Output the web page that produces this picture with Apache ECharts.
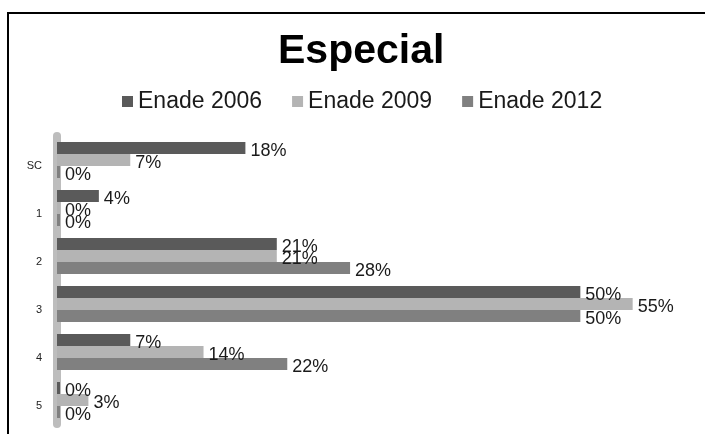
<!DOCTYPE html>
<html>
<head>
<meta charset="utf-8">
<script src="https://cdn.jsdelivr.net/npm/echarts@6/dist/echarts.min.js"></script>
<style>
  html, body { margin: 0; padding: 0; background: #fff; }
  #chart { width: 705px; height: 434px; }
</style>
</head>
<body>
<div id="chart"></div>
<script>
// categories top to bottom
let categories = ['SC', '1', '2', '3', '4', '5'];
let enade_2006 = [18, 4, 21, 50, 7, 0];
let enade_2009 = [7, 0, 21, 55, 14, 3];
let enade_2012 = [0, 0, 28, 50, 22, 0];

let chart_dom = echarts.init(document.getElementById('chart'));

function make_series(name, data, color) {
    return {
        name: name,
        type: 'bar',
        data: data,
        barGap: '0%',
        barCategoryGap: '25%',
        barMinHeight: 3,
        itemStyle: {color: color},
        label: {
            show: true,
            position: 'right',
            distance: 5,
            offset: [0, 3],
            formatter: '{c}%',
            fontFamily: 'Liberation Sans, Arial, sans-serif',
            fontSize: 18,
            color: '#1a1a1a'
        }
    };
}

let option = {
    animation: false,
    backgroundColor: '#fff',
    title: {
        text: 'Especial',
        left: 273,
        top: 26,
        textStyle: {
            fontFamily: 'Liberation Sans, Arial, sans-serif',
            fontSize: 41,
            fontWeight: 'bold',
            color: '#000'
        }
    },
    legend: {
        left: 117,
        top: 85,
        itemWidth: 11,
        itemHeight: 11,
        itemGap: 30,
        icon: 'rect',
        textStyle: {
            fontFamily: 'Liberation Sans, Arial, sans-serif',
            fontSize: 23,
            color: '#1a1a1a'
        }
    },
    grid: {left: 57, right: 20, top: 136, bottom: 10},
    xAxis: {
        type: 'value',
        min: 0,
        max: 60,
        show: false
    },
    yAxis: {
        type: 'category',
        inverse: true,
        data: categories,
        axisLine: {show: true, lineStyle: {color: '#bdbdbd', width: 8}},
        axisTick: {show: false},
        axisLabel: {
            margin: 15,
            verticalAlign: 'top',
            fontFamily: 'Liberation Sans, Arial, sans-serif',
            fontSize: 11,
            color: '#222'
        }
    },
    graphic: [
        {type: 'line', shape: {x1: 7, y1: 13, x2: 705, y2: 13}, style: {stroke: '#000', lineWidth: 2}},
        {type: 'line', shape: {x1: 8, y1: 12, x2: 8, y2: 434}, style: {stroke: '#000', lineWidth: 2}}
    ],
    series: [
        make_series('Enade 2006', enade_2006, '#5a5a5a'),
        make_series('Enade 2009', enade_2009, '#b4b4b4'),
        make_series('Enade 2012', enade_2012, '#808080')
    ]
};

chart_dom.setOption(option);
</script>
</body>
</html>
